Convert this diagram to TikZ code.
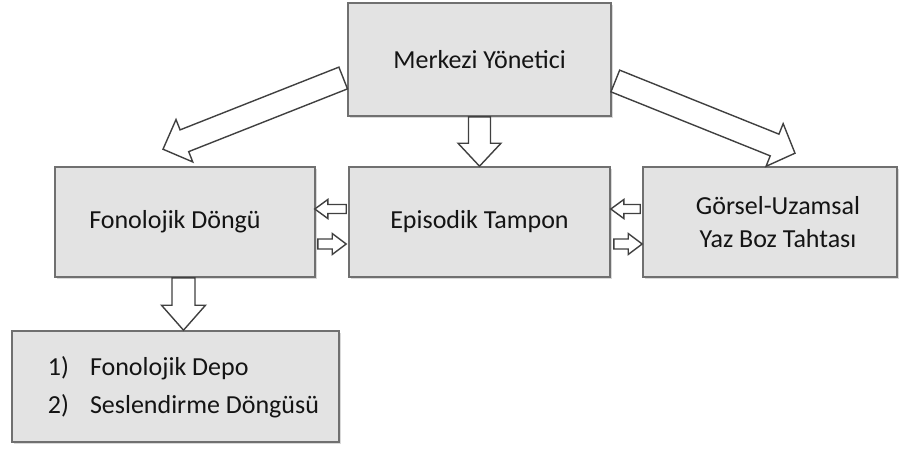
\documentclass[tikz,border=0pt]{standalone}
\usepackage{fontspec}
\setmainfont{Carlito}
\usepackage{tikz}
\usetikzlibrary{calc, shadows}

\newcommand{\blockarrow}[5]{%
  \coordinate (ba) at ($(#2)!#5!(#1)$);
  \draw[hollow] ($(#1)!#3!90:(#2)$) -- ($(ba)!#3!90:(#2)$) -- ($(ba)!#4!90:(#2)$) -- (#2)
    -- ($(ba)!#4!-90:(#2)$) -- ($(ba)!#3!-90:(#2)$) -- ($(#1)!#3!-90:(#2)$) -- cycle;
}

\begin{document}
\begin{tikzpicture}[x=1pt, y=-1pt, font=\fontsize{26}{33}\selectfont,
    box/.style={draw=gray!88!black, line width=1.6pt, fill=gray!22, text=black!92,
        drop shadow={shadow xshift=1.5pt, shadow yshift=-1.5pt, opacity=.3}},
    hollow/.style={draw=black!75, line width=1.4pt, fill=white, line join=miter}]
    \useasboundingbox (0,0) rectangle (899,448);

    \node[box, minimum width=263pt, minimum height=113pt] (merkezi) at (479.5,59.5) {Merkezi Yönetici};
    \node[box, minimum width=260pt, minimum height=110pt] (fonolojik) at (185,222) {Fonolojik Döngü\hspace*{20pt}};
    \node[box, minimum width=261pt, minimum height=110pt] (episodik) at (479.5,222) {Episodik Tampon};
    \node[box, minimum width=254pt, minimum height=110pt, align=center] (gorsel) at (770,222)
        {\hspace*{16pt}Görsel-Uzamsal\\\hspace*{16pt}Yaz Boz Tahtası};
    \node[box, minimum width=327pt, minimum height=111pt, font=\fontsize{26}{38}\selectfont] (depo) at (175.5,386.5)
        {\hspace*{16pt}\begin{tabular}{@{}l@{\hspace{21pt}}l@{}}1) & Fonolojik Depo\\ 2) & Seslendirme Döngüsü\end{tabular}};

    \coordinate (mL) at ($(merkezi.west)+(-4,18.5)$);
    \coordinate (fT) at ($(fonolojik.north)+(-22,-17)$);
    \coordinate (mR) at ($(merkezi.east)+(3.5,21.5)$);
    \coordinate (gT) at ($(gorsel.north)+(25,-13)$);
    \coordinate (eW1) at ($(episodik.west)+(-2,-13)$);
    \coordinate (fE1) at ($(fonolojik.east)+(-1,-13)$);
    \coordinate (fE2) at ($(fonolojik.east)+(2,22)$);
    \coordinate (eW2) at ($(episodik.west)+(-2,22)$);
    \coordinate (gW1) at ($(gorsel.west)+(-2,-13)$);
    \coordinate (eE1) at ($(episodik.east)+(0,-13)$);
    \coordinate (eE2) at ($(episodik.east)+(3,22)$);
    \coordinate (gW2) at ($(gorsel.west)+(0,22)$);
    \coordinate (fS) at ($(fonolojik.south)+(-1.5,0)$);
    \coordinate (dN) at ($(depo.north)+(8,0)$);

    \blockarrow{merkezi.south}{episodik.north}{11pt}{21.5pt}{23pt}
    \blockarrow{mL}{fT}{11.7pt}{22.8pt}{23pt}
    \blockarrow{mR}{gT}{11.7pt}{23pt}{22pt}
    \blockarrow{fS}{dN}{11.5pt}{22pt}{25pt}
    \blockarrow{eW1}{fE1}{4.5pt}{9.5pt}{13pt}
    \blockarrow{fE2}{eW2}{5pt}{10.5pt}{14pt}
    \blockarrow{gW1}{eE1}{4.5pt}{9.5pt}{13pt}
    \blockarrow{eE2}{gW2}{5pt}{10.5pt}{14pt}
\end{tikzpicture}
\end{document}
